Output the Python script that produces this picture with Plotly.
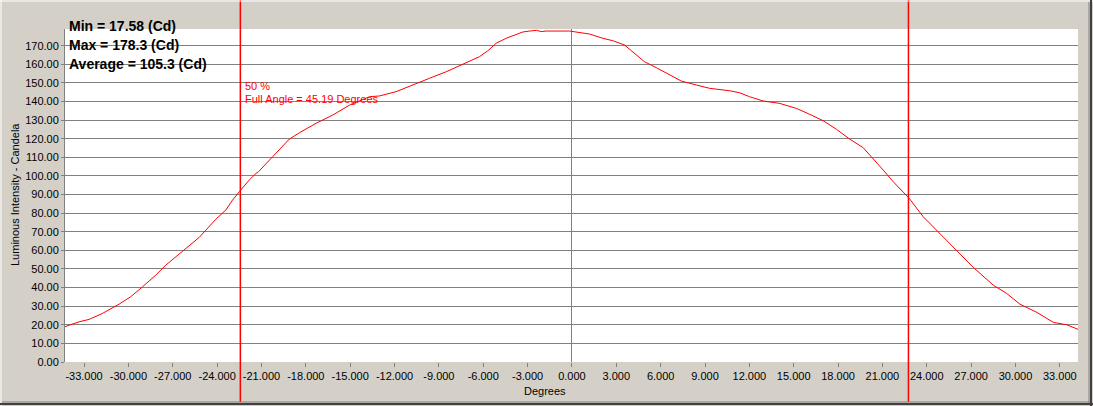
import plotly.graph_objects as go

# ---- data ----
degrees = [-34.29, -33.34, -32.66, -31.76, -30.63, -29.84, -29.05, -28.15, -27.47, -26.79,
           -25.89, -25.21, -24.76, -24.08, -23.41, -22.96, -22.50, -21.83, -21.37, -21.20,
           -20.25, -19.12, -18.44, -17.31, -16.19, -15.06, -13.70, -13.03, -11.90, -11.00,
           -9.64, -8.51, -7.39, -6.26, -5.69, -5.13, -4.45, -3.32, -2.87, -2.40, -2.08,
           -1.74, -0.16, 0.29, 1.19, 2.09, 2.77, 3.56, 4.12, 4.91, 5.71, 6.61, 7.40, 8.42,
           9.32, 10.67, 11.35, 12.02, 12.93, 14.06, 15.19, 16.09, 16.99, 17.89, 18.79,
           19.70, 20.37, 21.05, 21.73, 22.40, 22.81, 23.76, 24.89, 26.13, 27.14, 28.50,
           29.40, 30.30, 31.44, 32.56, 33.47, 34.23]
candela = [19.0, 21.6, 22.9, 26.1, 31.1, 35.1, 40.4, 46.7, 52.1, 56.6,
           62.8, 67.0, 70.9, 76.8, 81.7, 87.0, 91.5, 97.8, 101.4, 102.3,
           110.3, 119.8, 123.2, 128.3, 132.7, 138.0, 142.6, 143.0, 145.3, 148.0,
           152.5, 156.0, 160.0, 164.1, 167.3, 171.3, 174.0, 177.4, 177.9, 178.3, 177.6,
           177.9, 177.9, 177.5, 176.3, 174.0, 172.7, 170.4, 166.8, 161.4, 158.2, 154.6, 151.0, 148.9,
           147.1, 145.8, 144.7, 142.6, 140.3, 139.0, 136.3, 133.1, 129.7, 125.1, 119.8,
           115.2, 109.5, 103.2, 96.9, 91.5, 88.0, 78.1, 69.1, 59.2, 50.9, 41.3,
           36.9, 31.1, 26.7, 21.3, 20.0, 17.58]
beam_edges = [-22.43, 22.76]          # 50 % intensity angles (full angle 45.19)
x_ticks = list(range(-33, 34, 3))
y_ticks = list(range(0, 171, 10))
stats_lines = ["Min = 17.58 (Cd)", "Max = 178.3 (Cd)", "Average = 105.3 (Cd)"]
beam_lines = ["50 %", "Full Angle = 45.19 Degrees"]

FONT = "Liberation Sans, Arial, sans-serif"
BG = "#D4D0C8"
GRID = "#808080"

fig = go.Figure()
fig.add_trace(go.Scatter(x=degrees, y=candela, mode="lines",
                         line=dict(color="#FF0000", width=1), hoverinfo="skip"))

L, R, T, B = 65, 15, 29, 44
W, H = 1093, 406
pw, ph = W - L - R, H - T - B

def px_x(px):
    return (px - L) / pw

def px_y(py):
    return (H - B - py) / ph

shapes = []
for xe in beam_edges:
    shapes.append(dict(type="line", xref="x", yref="paper", x0=xe, x1=xe,
                       y0=px_y(402), y1=px_y(0), line=dict(color="#FF0000", width=1.5),
                       layer="above"))
# window bevel frame
shapes += [
    dict(type="line", xref="paper", yref="paper", x0=px_x(0), x1=px_x(W), y0=px_y(1), y1=px_y(1),
         line=dict(color="#FFFFFF", width=1)),
    dict(type="line", xref="paper", yref="paper", x0=px_x(1), x1=px_x(1), y0=px_y(0), y1=px_y(H),
         line=dict(color="#FFFFFF", width=1)),
    dict(type="line", xref="paper", yref="paper", x0=px_x(W - 4), x1=px_x(W - 4), y0=px_y(2), y1=px_y(H - 3),
         line=dict(color="#808080", width=1)),
    dict(type="line", xref="paper", yref="paper", x0=px_x(W - 2), x1=px_x(W - 2), y0=px_y(0), y1=px_y(H),
         line=dict(color="#404040", width=2)),
    dict(type="line", xref="paper", yref="paper", x0=px_x(2), x1=px_x(W - 3), y0=px_y(H - 4), y1=px_y(H - 4),
         line=dict(color="#808080", width=1)),
    dict(type="line", xref="paper", yref="paper", x0=px_x(0), x1=px_x(W), y0=px_y(H - 2), y1=px_y(H - 2),
         line=dict(color="#404040", width=2)),
]

annotations = []
for i, s in enumerate(stats_lines):
    annotations.append(dict(xref="paper", yref="paper", x=px_x(67), y=px_y(26 + 19 * i),
                            xanchor="left", yanchor="middle", showarrow=False,
                            text="<b>" + s + "</b>",
                            font=dict(family=FONT, size=14, color="#000000")))
for i, s in enumerate(beam_lines):
    annotations.append(dict(xref="paper", yref="paper", x=px_x(243), y=px_y(86 + 13 * i),
                            xanchor="left", yanchor="middle", showarrow=False, text=s,
                            font=dict(family=FONT, size=11, color="#FF0000")))
annotations.append(dict(xref="paper", yref="paper", x=px_x(545), y=px_y(391),
                        xanchor="center", yanchor="middle", showarrow=False, text="Degrees",
                        font=dict(family=FONT, size=11, color="#000000")))
annotations.append(dict(xref="paper", yref="paper", x=px_x(15), y=px_y(195),
                        xanchor="center", yanchor="middle", showarrow=False, textangle=-90,
                        text="Luminous Intensity - Candela",
                        font=dict(family=FONT, size=11, color="#000000")))

fig.update_layout(
    width=W, height=H,
    margin=dict(l=L, r=R, t=T, b=B, pad=0),
    paper_bgcolor=BG, plot_bgcolor="#FFFFFF",
    showlegend=False,
    font=dict(family=FONT, size=11, color="#000000"),
    shapes=shapes, annotations=annotations,
    xaxis=dict(range=[degrees[0], degrees[-1]], tickvals=x_ticks,
               ticktext=["%.3f" % v for v in x_ticks],
               showgrid=False, zeroline=True, zerolinecolor=GRID, zerolinewidth=1,
               ticks="outside", ticklen=4, tickcolor=GRID, showline=False,
               tickfont=dict(family=FONT, size=11, color="#000000"), fixedrange=True),
    yaxis=dict(range=[0, 179], tickvals=y_ticks,
               ticktext=["%.2f" % v for v in y_ticks],
               showgrid=True, gridcolor=GRID, gridwidth=1, zeroline=False,
               ticks="outside", ticklen=3, tickcolor=GRID,
               showline=True, linecolor=GRID, linewidth=1,
               tickfont=dict(family=FONT, size=11, color="#000000"), fixedrange=True),
)

fig.write_html("out.html", config={"displayModeBar": False},
               post_script="document.body.style.margin='0';document.body.style.overflow='hidden';")
